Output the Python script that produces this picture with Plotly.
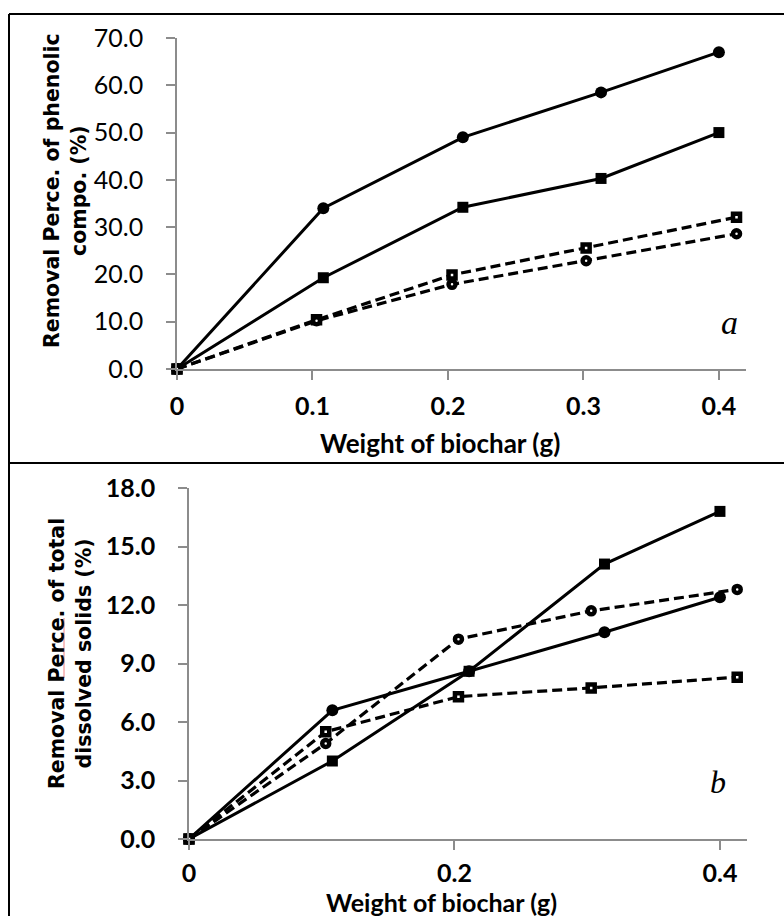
import plotly.graph_objects as go

# ---------------- data ----------------
# Panel a: removal percentage of phenolic compounds (%)
a_circ_x = [0, 0.108, 0.211, 0.313, 0.400]
a_circ_y = [0.0, 34.0, 49.0, 58.5, 67.0]
a_sq_x = [0, 0.108, 0.211, 0.313, 0.400]
a_sq_y = [0.0, 19.3, 34.2, 40.3, 50.0]
a_osq_x = [0, 0.103, 0.203, 0.302, 0.413]
a_osq_y = [0.0, 10.4, 19.9, 25.6, 32.1]
a_ocirc_x = [0, 0.103, 0.203, 0.302, 0.413]
a_ocirc_y = [0.0, 10.2, 17.9, 22.9, 28.6]

# Panel b: removal percentage of total dissolved solids (%)
b_sq_x = [0, 0.108, 0.211, 0.313, 0.400]
b_sq_y = [0.0, 4.0, 8.6, 14.1, 16.8]
b_circ_x = [0, 0.108, 0.211, 0.313, 0.400]
b_circ_y = [0.0, 6.6, 8.6, 10.6, 12.4]
b_ocirc_x = [0, 0.103, 0.203, 0.303, 0.413]
b_ocirc_y = [0.0, 4.9, 10.25, 11.7, 12.8]
b_osq_x = [0, 0.103, 0.203, 0.303, 0.413]
b_osq_y = [0.0, 5.5, 7.3, 7.75, 8.3]

a_xticks = [0, 0.1, 0.2, 0.3, 0.4]
a_xtext = ["0", "0.1", "0.2", "0.3", "0.4"]
a_yticks = [0, 10, 20, 30, 40, 50, 60, 70]
b_xticks = [0, 0.2, 0.4]
b_xtext = ["0", "0.2", "0.4"]
b_yticks = [0, 3, 6, 9, 12, 15, 18]

W, H = 784, 916
def px(x): return x / W
def py(y): return 1 - y / H

fig = go.Figure()

def solid(x, y, sym, xa, ya):
    fig.add_trace(go.Scatter(x=x, y=y, xaxis=xa, yaxis=ya, mode="lines+markers",
                             line=dict(color="black", width=3),
                             marker=dict(symbol=sym, size=12 if sym == "circle" else 11, color="black"),
                             cliponaxis=False, showlegend=False))

def dashed(x, y, sym, xa, ya):
    fig.add_trace(go.Scatter(x=x, y=y, xaxis=xa, yaxis=ya, mode="lines+markers",
                             line=dict(color="black", width=3.2, dash="10px,5px"),
                             marker=dict(symbol=sym, size=7, color="white",
                                         line=dict(color="black", width=4.5)),
                             cliponaxis=False, showlegend=False))

solid(a_circ_x, a_circ_y, "circle", "x", "y")
solid(a_sq_x, a_sq_y, "square", "x", "y")
dashed(a_osq_x, a_osq_y, "square", "x", "y")
dashed(a_ocirc_x, a_ocirc_y, "circle", "x", "y")

solid(b_sq_x, b_sq_y, "square", "x2", "y2")
solid(b_circ_x, b_circ_y, "circle", "x2", "y2")
dashed(b_ocirc_x, b_ocirc_y, "circle", "x2", "y2")
dashed(b_osq_x, b_osq_y, "square", "x2", "y2")

axis_common = dict(showline=True, linecolor="#8c8c8c", linewidth=1.5, ticks="outside",
                   tickcolor="#8c8c8c", ticklen=9, tickwidth=1.5, showgrid=False,
                   zeroline=False, automargin=False)
tick_reg = dict(family="Lato", size=25, color="black")
tick_bold = dict(family="Lato", size=25, color="black", weight="bold")

fig.update_layout(
    width=W, height=H, margin=dict(l=0, r=0, t=0, b=0),
    paper_bgcolor="white", plot_bgcolor="white",
    xaxis=dict(domain=[px(177), px(746)], range=[0, 0.42], anchor="y",
               tickvals=a_xticks, ticktext=a_xtext, tickfont=tick_bold,
               ticklabelstandoff=5, **axis_common),
    yaxis=dict(domain=[py(369), py(38)], range=[0, 70], anchor="x",
               tickvals=a_yticks, tickformat=".1f", tickfont=tick_reg,
               ticklabelstandoff=18, **axis_common),
    xaxis2=dict(domain=[px(189), px(746.5)], range=[0, 0.42], anchor="y2",
                tickvals=b_xticks, ticktext=b_xtext, tickfont=tick_bold,
                ticklabelstandoff=2, **axis_common),
    yaxis2=dict(domain=[py(839), py(488)], range=[0, 18], anchor="x2",
                tickvals=b_yticks, tickformat=".1f", tickfont=tick_bold,
                ticklabelstandoff=18, **axis_common),
)

title_font = dict(family="DejaVu Sans", size=20.5, color="black", weight="bold")
xt_font = dict(family="Lato", size=26, color="black", weight="bold")
xt_font_b = dict(family="Lato", size=25, color="black", weight="bold")
ann = [
    dict(x=px(440), y=py(443), text="Weight of biochar (g)", font=xt_font),
    dict(x=px(441), y=py(902), text="Weight of biochar (g)", font=xt_font_b),
    dict(x=px(66), y=py(191), text="Removal Perce. of phenolic<br>compo. (%)",
         font=title_font, textangle=-90),
    dict(x=px(70), y=py(654), text="Removal Perce. of total<br>dissolved solids (%)",
         font=title_font, textangle=-90),
    dict(x=px(729), y=py(322), text="<i>a</i>",
         font=dict(family="Liberation Serif", size=34, color="black")),
    dict(x=px(718), y=py(782), text="<i>b</i>",
         font=dict(family="Liberation Serif", size=32, color="black")),
]
for a in ann:
    a.update(xref="paper", yref="paper", showarrow=False, xanchor="center", yanchor="middle")
fig.update_layout(annotations=ann)

frame = dict(type="line", xref="paper", yref="paper", line=dict(color="black", width=2))
fig.update_layout(shapes=[
    dict(x0=px(9), x1=1, y0=py(14), y1=py(14), **frame),
    dict(x0=px(9), x1=px(9), y0=py(14), y1=0, **frame),
    dict(x0=px(9), x1=1, y0=py(463), y1=py(463), **frame),
    dict(type="line", xref="paper", yref="paper", x0=px(64), x1=px(64), y0=py(618), y1=py(678),
         line=dict(color="#f08080", width=1)),
])

fig.write_html("out.html", config={"displayModeBar": False},
               post_script="document.body.style.margin='0';document.body.style.padding='0';"
                           "document.body.style.overflow='hidden';")
